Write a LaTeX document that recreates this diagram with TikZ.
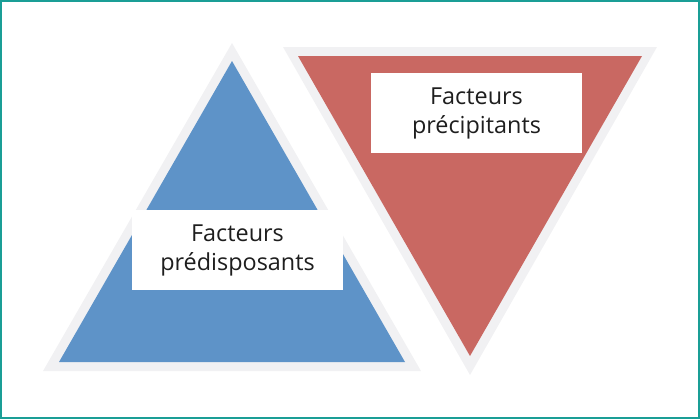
\documentclass[tikz,border=0pt]{standalone}
\usepackage{fontspec}
\setmainfont{Open Sans}
\definecolor{framecol}{HTML}{1A9E96}
\definecolor{halo}{HTML}{F1F1F3}
\definecolor{blueT}{HTML}{5E93C8}
\definecolor{redT}{HTML}{C96862}
\definecolor{textcol}{HTML}{1E1E1E}
\begin{document}
\begin{tikzpicture}[x=0.5pt,y=-0.5pt,
  labelbox/.style={fill=white, minimum width=105.5pt, minimum height=40pt, inner sep=0pt,
    align=center, text=textcol, font=\fontsize{11.7}{14.5}\selectfont}]
\useasboundingbox (0,0) rectangle (700,419);
\draw[framecol, line width=1pt] (1,1) rectangle (699,418);
% left triangle
\fill[halo] (43,371) -- (421,371) -- (232,43) -- cycle;
\fill[blueT] (59,362) -- (405,362) -- (232,61) -- cycle;
% right triangle
\fill[halo] (283,47) -- (657,47) -- (470,375) -- cycle;
\fill[redT] (298,56) -- (642,56) -- (470,356) -- cycle;
% labels
\node[labelbox] (pred) at (237.5,250) {Facteurs\\prédisposants};
\node[labelbox] (prec) at (476.5,113) {Facteurs\\précipitants};
\end{tikzpicture}
\end{document}
